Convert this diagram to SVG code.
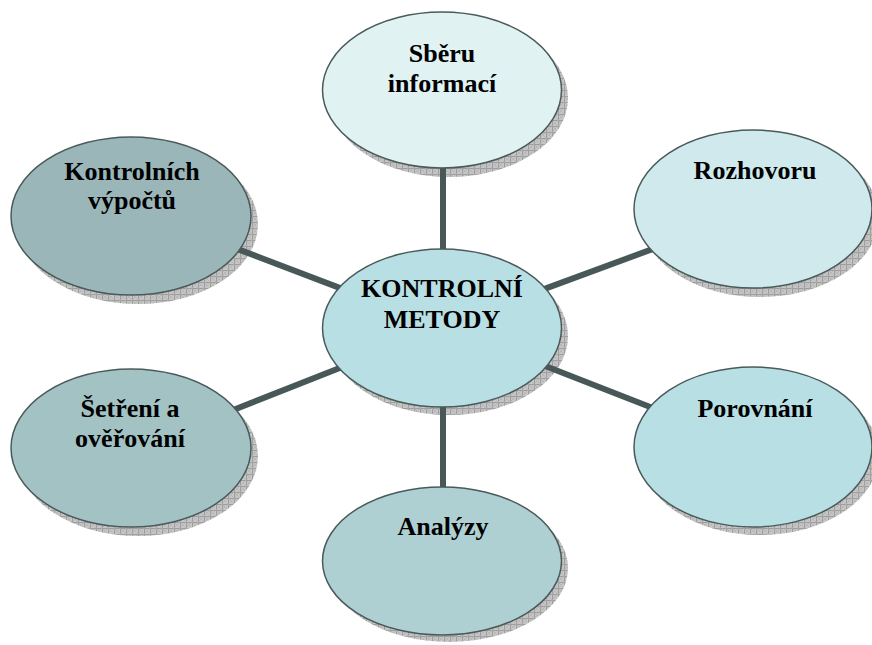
<svg xmlns="http://www.w3.org/2000/svg" width="872" height="645" viewBox="0 0 872 645">
  <defs>
    <!-- cross-hatched grey fill used for the drop shadows -->
    <pattern id="hatch" width="6" height="6" patternUnits="userSpaceOnUse">
      <rect width="6" height="6" fill="#c6c6c6"/>
      <path d="M0 0.5H6M0.5 0V6" stroke="#989898" stroke-width="0.9"/>
      <path d="M0 0L6 6M6 0L0 6" stroke="#b0b0b0" stroke-width="0.6"/>
    </pattern>
    <style>
      .shadow { fill: url(#hatch); }
      .bubble { stroke: #4a5a5a; stroke-width: 1.5; }
      .link { stroke: #485858; stroke-width: 6; fill: none; }
    </style>
  </defs>

  <rect width="872" height="645" fill="#ffffff"/>

  <!-- drop shadows, offset down-right -->
  <g id="shadows">
    <ellipse class="shadow" cx="449" cy="98" rx="119" ry="79"/>
    <ellipse class="shadow" cx="760" cy="217" rx="119" ry="80"/>
    <ellipse class="shadow" cx="449" cy="336" rx="119" ry="79"/>
    <ellipse class="shadow" cx="760" cy="455" rx="119" ry="80"/>
    <ellipse class="shadow" cx="449" cy="568" rx="119" ry="74"/>
    <ellipse class="shadow" cx="138" cy="456" rx="120" ry="80"/>
    <ellipse class="shadow" cx="138" cy="224" rx="120" ry="80"/>
  </g>

  <!-- spokes from the hub to each method -->
  <g id="connectors">
    <line class="link" x1="443" y1="160" x2="443" y2="262"/>
    <line class="link" x1="443" y1="396" x2="443" y2="497"/>
    <line class="link" x1="220" y1="242.4" x2="360" y2="295.6"/>
    <line class="link" x1="527" y1="295.4" x2="670" y2="242.6"/>
    <line class="link" x1="213" y1="418" x2="360" y2="360"/>
    <line class="link" x1="535" y1="362" x2="670" y2="414.8"/>
  </g>

  <g font-size="26" font-weight="bold">
    <g id="sberu">
      <ellipse class="bubble" cx="442" cy="90" rx="119.5" ry="78" fill="#e1f2f3"/>
      <text x="442" y="62" font-family="Liberation Serif" text-anchor="middle">Sběru</text>
      <text x="442" y="92" font-family="Liberation Serif" text-anchor="middle">informací</text>
    </g>

    <g id="rozhovoru">
      <ellipse class="bubble" cx="753" cy="209" rx="119" ry="79" fill="#cfe9ec"/>
      <text x="755" y="179" font-family="Liberation Serif" text-anchor="middle">Rozhovoru</text>
    </g>

    <g id="hub">
      <ellipse class="bubble" cx="442" cy="328" rx="119.5" ry="79" fill="#b8dfe3"/>
      <text x="442" y="297" font-family="Liberation Serif" text-anchor="middle">KONTROLNÍ</text>
      <text x="442" y="328" font-family="Liberation Serif" text-anchor="middle">METODY</text>
    </g>

    <g id="porovnani">
      <ellipse class="bubble" cx="753" cy="447" rx="119" ry="80" fill="#b8dfe3"/>
      <text x="755" y="417" font-family="Liberation Serif" text-anchor="middle">Porovnání</text>
    </g>

    <g id="analyzy">
      <ellipse class="bubble" cx="442" cy="561" rx="119.5" ry="74" fill="#afd0d3"/>
      <text x="443" y="535" font-family="Liberation Serif" text-anchor="middle">Analýzy</text>
    </g>

    <g id="setreni">
      <ellipse class="bubble" cx="131" cy="448" rx="120" ry="79" fill="#a3c2c4"/>
      <text x="130" y="417" font-family="Liberation Serif" text-anchor="middle">Šetření a</text>
      <text x="130" y="447" font-family="Liberation Serif" text-anchor="middle">ověřování</text>
    </g>

    <g id="vypoctu">
      <ellipse class="bubble" cx="131" cy="216" rx="120" ry="79" fill="#9ab6b8"/>
      <text x="132" y="180" font-family="Liberation Serif" text-anchor="middle">Kontrolních</text>
      <text x="132" y="209" font-family="Liberation Serif" text-anchor="middle">výpočtů</text>
    </g>
  </g>
</svg>
